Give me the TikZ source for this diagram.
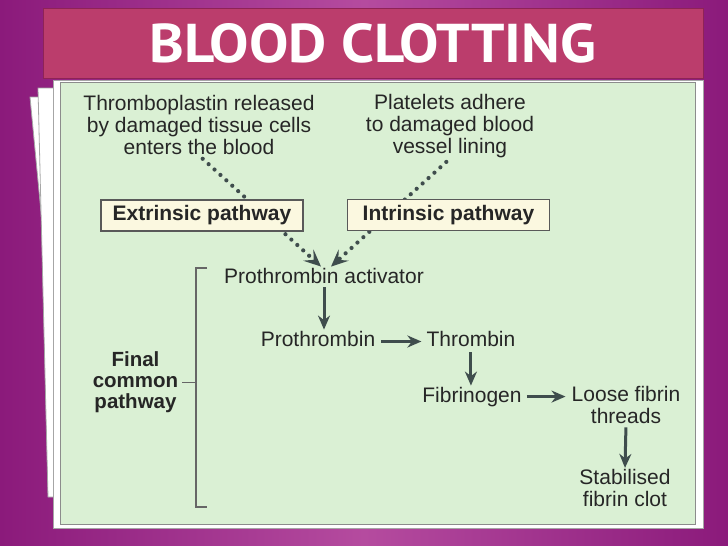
\documentclass[tikz,border=0pt]{standalone}
\usepackage{fontspec}
\usepackage{graphicx}
\setmainfont{Liberation Sans}
\newfontfamily\titlefont{PT Sans}
\usepackage{tikz}
\usetikzlibrary{arrows.meta, positioning}
\definecolor{plumedge}{HTML}{8B1A7B}
\definecolor{plummid}{HTML}{B54B9F}
\definecolor{titlerose}{HTML}{BB3D6C}
\definecolor{titleedge}{HTML}{8E2356}
\definecolor{mint}{HTML}{DAF0D4}
\definecolor{ink}{HTML}{262626}
\definecolor{slate}{HTML}{3F4D4D}
\definecolor{cream}{HTML}{FBF8E0}
\tikzstyle{caption}=[inner sep=1pt, align=center, text=ink, font=\fontsize{21}{21.7}\selectfont]
\tikzstyle{pathbox}=[rectangle, draw=black!65, fill=cream, line width=1.2pt, minimum width=202pt, minimum height=31pt, inner sep=0pt, text=ink, font=\fontsize{21}{22}\selectfont\bfseries]
\tikzstyle{titlebar}=[rectangle, draw=titleedge, fill=titlerose, line width=1pt, minimum width=660pt, minimum height=70pt, inner sep=0pt, text=white]
\tikzstyle{feed}=[draw=slate, line width=4.2pt, line cap=round, dash pattern=on 0pt off 8pt, -{Stealth[length=17pt,width=15pt,inset=7pt]}]
\tikzstyle{flow}=[draw=slate, line width=3pt, -{Stealth[length=14pt,width=12pt]}]
\tikzstyle{sheet}=[fill=white, draw=black!35, line width=0.8pt]
\tikzstyle{bracket}=[draw=black!60, line width=1.2pt]

\begin{document}
\begin{tikzpicture}[x=1pt, y=-1pt]
    \useasboundingbox (0,0) rectangle (728,546);
    \shade[left color=plumedge, right color=plumedge, middle color=plummid] (0,0) rectangle (728,546);
    \path[sheet] (30,97) -- (150,97) -- (150,400) -- (59,400) -- cycle;
    \path[sheet] (38,88) -- (150,88) -- (150,497) -- (48,497) -- cycle;
    \path[sheet] (53,80) rectangle (703,528);
    \path[fill=mint, draw=black!45, line width=0.8pt] (60,82) rectangle (695,524);

    \node[titlebar] (title) at (373,43) {\resizebox{446pt}{39pt}{\titlefont\bfseries BLOOD CLOTTING}};

    \node[caption, anchor=base] (throm) at (199,154) {Thromboplastin released\\by damaged tissue cells\\enters the blood};
    \node[caption, anchor=base] (plat) at (450,153) {Platelets adhere\\to damaged blood\\vessel lining};
    \node[caption, anchor=base] (pact) at (324,283) {Prothrombin activator};

    \draw[feed, shorten <=5pt] (throm.south) -- ([xshift=-3pt]pact.north);
    \draw[feed, shorten <=5pt] (plat.south) -- ([xshift=7pt]pact.north);

    \node[pathbox] (ext) at (202,215.5) {Extrinsic pathway};
    \node[pathbox] (int) at (448.5,215) {Intrinsic pathway};

    \node[caption, anchor=base] (prothrombin) at (318,346) {Prothrombin};
    \node[caption] (thrombin) [base right=49pt of prothrombin] {Thrombin};
    \node[caption, anchor=base] (fibrinogen) at (472,402) {Fibrinogen};
    \node[caption, anchor=base] (loose) at (626,423) {Loose fibrin\\threads};
    \node[caption, anchor=base] (stab) at (625,506) {Stabilised\\fibrin clot};

    \draw[flow, shorten <=3pt] (pact.south) -- (pact.south |- prothrombin.north);
    \draw[flow, shorten <=5pt, shorten >=4pt] ([yshift=-3pt]prothrombin.east) -- ([yshift=-3pt]thrombin.west);
    \draw[flow, shorten <=5pt] (thrombin.south) -- (thrombin.south |- fibrinogen.north);
    \draw[flow, shorten <=4pt, shorten >=5pt] (fibrinogen.east) -- (fibrinogen.east -| loose.west);
    \draw[flow, shorten <=3pt] (loose.south) -- (stab.north);

    \node[caption, anchor=base, font=\fontsize{20.5}{20.6}\selectfont\bfseries] (final) at (135.5,408) {Final\\common\\pathway};
    \coordinate (brtop) at (196,268);
    \coordinate (brbot) at (196,507);
    \draw[bracket] ([xshift=11pt]brtop) -- (brtop) -- (brbot) -- ([xshift=11pt]brbot);
    \draw[bracket] ([xshift=3pt]final.east) -- (final.east -| brtop);
\end{tikzpicture}
\end{document}
